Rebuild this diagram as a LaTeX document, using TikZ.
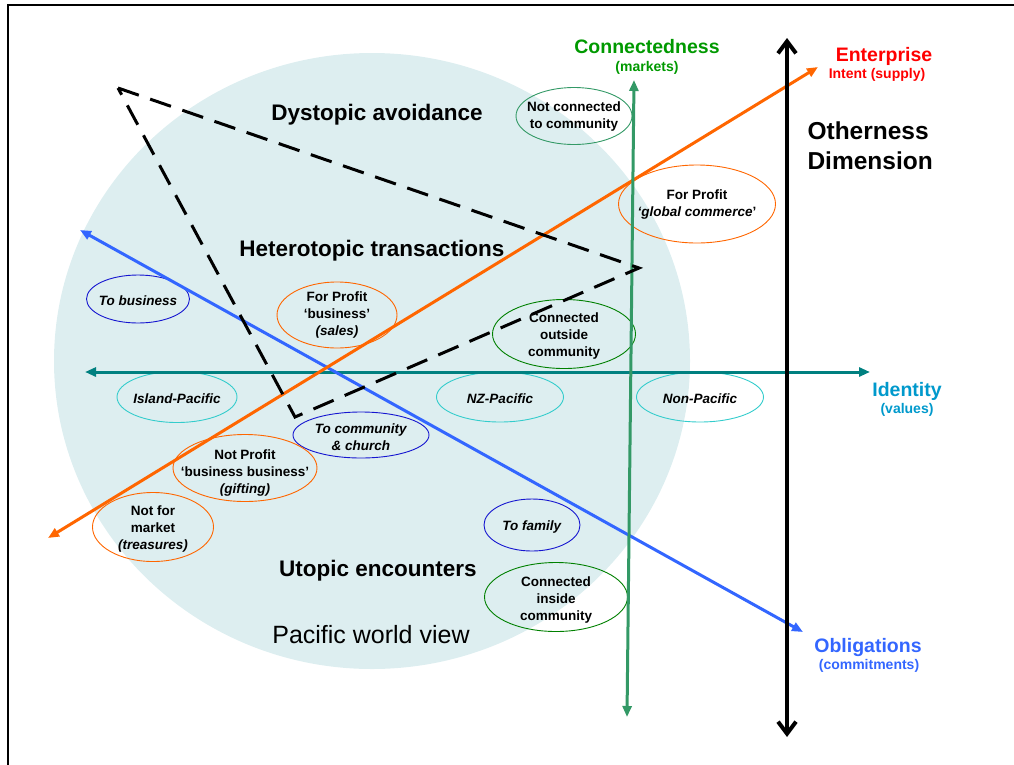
\documentclass[tikz,border=0pt]{standalone}
\usepackage{fontspec}
\setmainfont{Liberation Sans}
\usetikzlibrary{arrows.meta,shapes.geometric}

\definecolor{worldfill}{RGB}{221,238,240}
\definecolor{orangeC}{HTML}{FF6600}
\definecolor{blueC}{HTML}{3366FF}
\definecolor{tealC}{HTML}{008080}
\definecolor{seaC}{HTML}{339966}
\definecolor{darkgreenC}{HTML}{008000}
\definecolor{navyC}{HTML}{1515D0}
\definecolor{cyanC}{HTML}{33CCCC}
\definecolor{connC}{HTML}{009900}
\definecolor{idC}{HTML}{0099CC}
\definecolor{redC}{HTML}{FF0000}

\tikzset{
  ovaltext/.style={inner sep=0pt, align=center,
    font=\fontsize{13.5}{17}\selectfont\bfseries},
  ovalrim/.style={draw=#1, line width=0.9pt},
  zone/.style={font=\fontsize{22.5}{27}\selectfont\bfseries},
  axtitle/.style={font=\fontsize{19.5}{23}\selectfont\bfseries, text=#1},
  axsub/.style={font=\fontsize{14}{17}\selectfont\bfseries, text=#1},
  axisline/.style={line width=3pt, draw=#1,
    {Triangle[length=11pt,width=9pt]}-{Triangle[length=11pt,width=9pt]}},
  dashtri/.style={line width=3pt, dash pattern=on 22pt off 12pt, line join=miter},
}

\begin{document}
\begin{tikzpicture}[x=1pt,y=-1pt]
\useasboundingbox (0,0) rectangle (1014,764);

% frame
\draw[line width=2pt] (8,780) -- (8,5) -- (1030,5);

% Pacific world view region
\fill[worldfill] (372,361) ellipse [x radius=318, y radius=308];

% zone titles
\node[zone] (dys) at (377,115) {Dystopic avoidance};
\node[zone] (het) at (372,251) {Heterotopic transactions};
\node[zone] (uto) at (378,571) {Utopic encounters};
\node[font=\fontsize{25}{30}\selectfont] (pwv) at (371,635) {Pacific world view};

% labels inside the ovals
\node[ovaltext] (notconn) at (574,117) {Not connected\\to community};
\node[ovaltext] (global) at (697,205) {For Profit\\\textit{‘global commerce}’};
\node[ovaltext] (sales) at (337,315) {For Profit\\‘business’\\\textit{(sales)}};
\node[ovaltext] (tobus) at (138,301) {\textit{To business}};
\node[ovaltext] (island) at (177,399) {\textit{Island-Pacific}};
\node[ovaltext] (church) at (361,437) {\textit{To community}\\\textit{\& church}};
\node[ovaltext] (gifting) at (245,473) {Not Profit\\‘business business’\\\textit{(gifting)}};
\node[ovaltext] (treas) at (153,529) {Not for\\market\\\textit{(treasures)}};
\node[ovaltext] (outside) at (564,336) {Connected\\outside\\community};
\node[ovaltext] (nzp) at (500,399) {\textit{NZ-Pacific}};
\node[ovaltext] (nonp) at (700,399) {\textit{Non-Pacific}};
\node[ovaltext] (family) at (532,527) {\textit{To family}};
\node[ovaltext] (inside) at (556,600) {Connected\\inside\\community};

% oval outlines
\draw[ovalrim=seaC]       (574,116) ellipse [x radius=58, y radius=28.5];
\draw[ovalrim=orangeC]    (697,204) ellipse [x radius=78.5, y radius=39];
\draw[ovalrim=orangeC]    (337,315) ellipse [x radius=60, y radius=33];
\draw[ovalrim=navyC]      (138,299) ellipse [x radius=51.5, y radius=24];
\draw[ovalrim=cyanC]      (177,397) ellipse [x radius=60, y radius=25.5];
\draw[ovalrim=navyC]      (361,435) ellipse [x radius=68, y radius=23];
\draw[ovalrim=orangeC]    (245,468) ellipse [x radius=72, y radius=33.5];
\draw[ovalrim=orangeC]    (153,527) ellipse [x radius=60.5, y radius=34.5];
\draw[ovalrim=darkgreenC] (564,334) ellipse [x radius=71.5, y radius=34.5];
\draw[ovalrim=cyanC]      (500,397) ellipse [x radius=63.5, y radius=25];
\draw[ovalrim=cyanC]      (700,397) ellipse [x radius=63.5, y radius=25];
\draw[ovalrim=navyC]      (532,525) ellipse [x radius=48, y radius=26];
\draw[ovalrim=darkgreenC] (556,597) ellipse [x radius=71.5, y radius=34.5];

% axis end points
\coordinate (idW) at (85,372);   \coordinate (idE) at (870,372);
\coordinate (obW) at (80,230);   \coordinate (obE) at (803,632);
\coordinate (enW) at (48,538);   \coordinate (enE) at (818,67);
\coordinate (coS) at (627,717);  \coordinate (coN) at (634,80);
\coordinate (otS) at (787,737);  \coordinate (otN) at (787,38);

% axes
\draw[axisline=tealC] (idW) -- (idE);
\draw[axisline=blueC] (obW) -- (obE);
\draw[axisline=orangeC] (enW) -- (enE);
\draw[axisline=seaC] (coS) -- (coN);
\draw[line width=4pt, {Straight Barb[length=12pt,width=18pt]}-{Straight Barb[length=12pt,width=18pt]}]
  (otS) -- (otN);

% dashed triangle
\coordinate (t1) at (118,88);
\coordinate (t2) at (639,268);
\coordinate (t3) at (295,417);
\draw[dashtri] (t1) -- (t2) -- (t3) -- cycle;

% axis labels
\node[axtitle=connC] (conn) at (647,47) {Connectedness};
\node[axsub=connC] (connsub) at (647,68) {(markets)};
\node[axtitle=redC] (ent) at (884,56) {Enterprise};
\node[axsub=redC] (entsub) at (877,75) {Intent (supply)};
\node[axtitle=idC] (ident) at (907,391) {Identity};
\node[axsub=idC] (identsub) at (907,410) {(values)};
\node[axtitle=blueC] (obl) at (868,647) {Obligations};
\node[axsub=blueC] (oblsub) at (869,666) {(commitments)};
\node[anchor=west, align=left, font=\fontsize{24.5}{30}\selectfont\bfseries] (other) at (804,146)
  {Otherness\\Dimension};
\end{tikzpicture}
\end{document}
